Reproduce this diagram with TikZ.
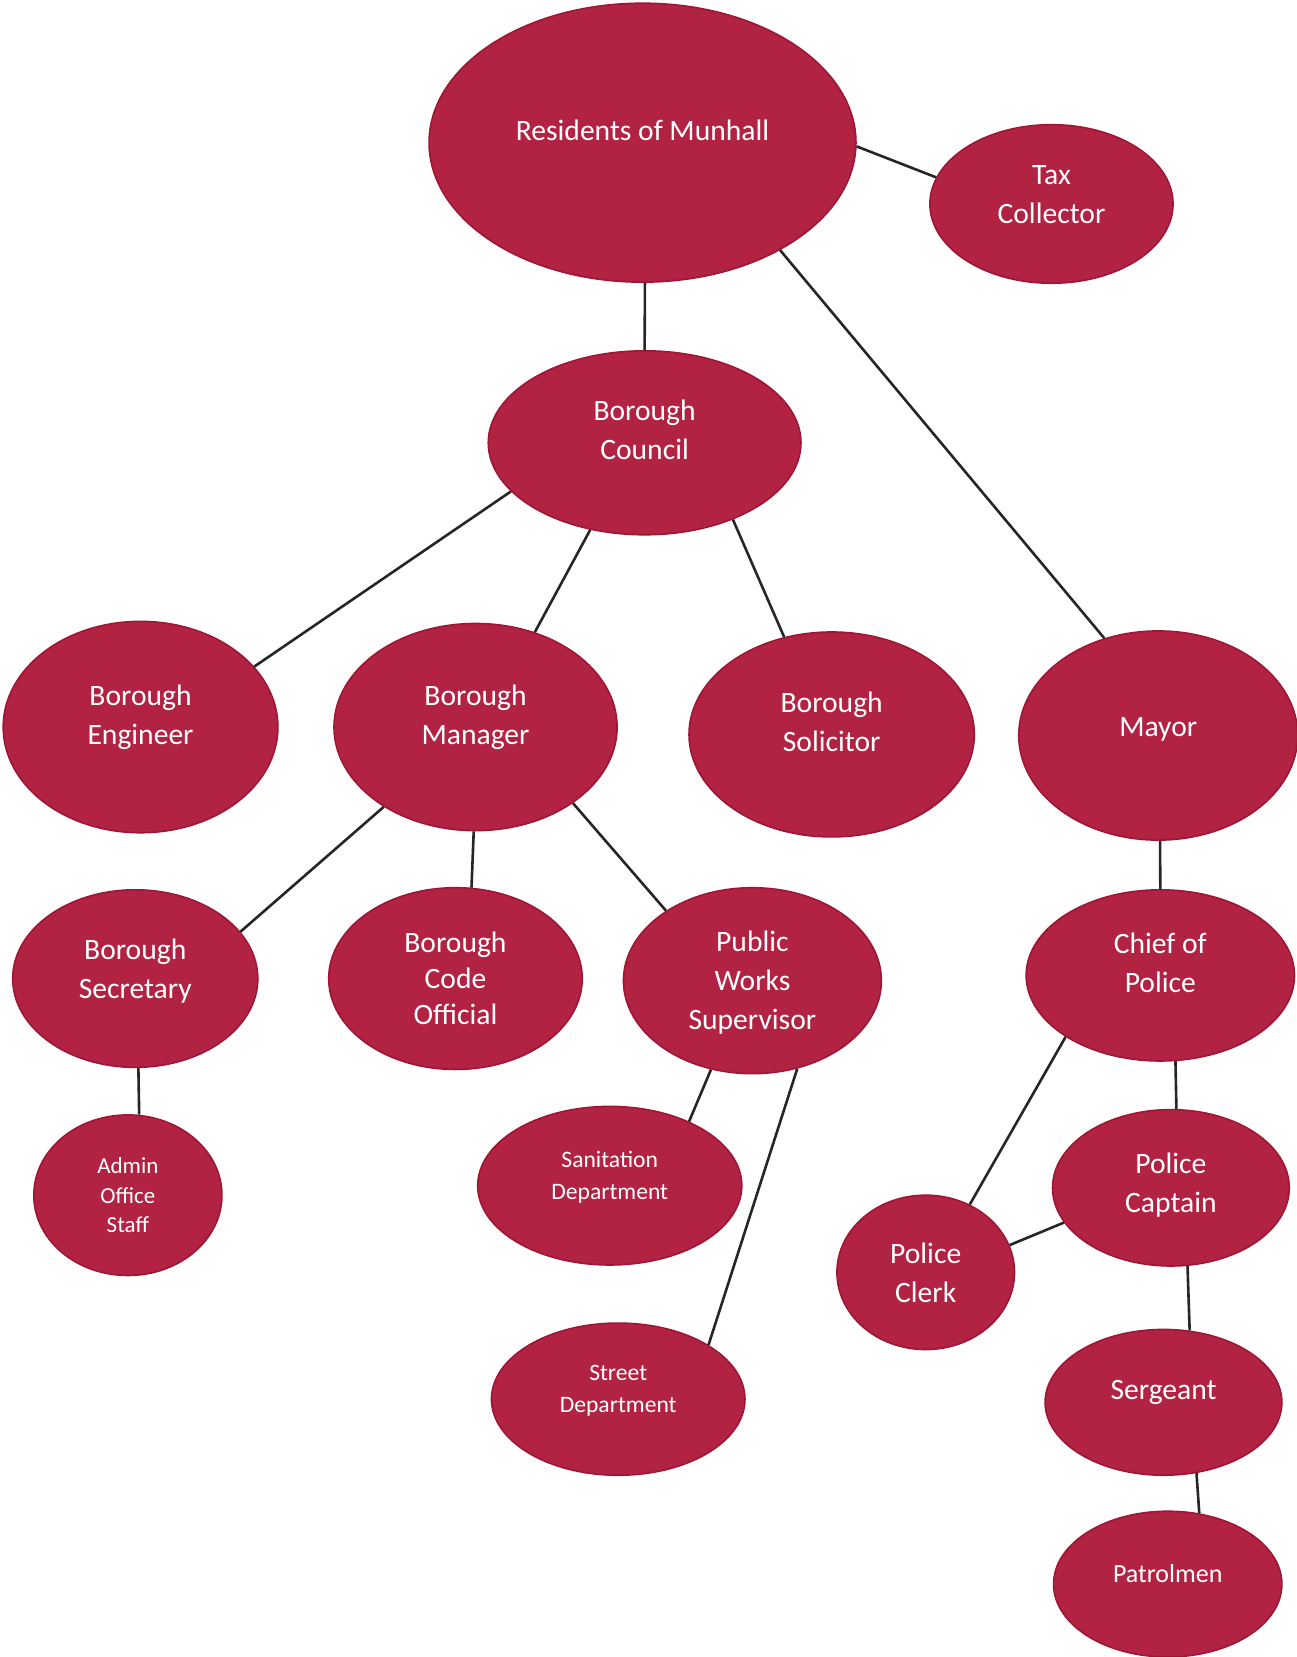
\documentclass[tikz,border=0pt]{standalone}
\usepackage{fontspec}
\setmainfont{Carlito}
\usepackage{tikz}
\usetikzlibrary{shapes.geometric}
\definecolor{orgfill}{RGB}{178,34,66}
\definecolor{orgdraw}{RGB}{158,22,52}
\tikzset{
  orgnode/.style={
    ellipse, draw=orgdraw, fill=orgfill, line width=0.8pt,
    text=white, align=center, inner sep=0pt,
    font=\fontsize{14.8}{19.5}\selectfont
  },
  orgsmall/.style={orgnode, font=\fontsize{11.8}{16}\selectfont},
  sz/.style 2 args={minimum width=#1pt, minimum height=#2pt},
  tup/.style={text depth=#1pt},
  orgline/.style={line width=1.3pt, draw=black!85},
}

\begin{document}
\begin{tikzpicture}[x=0.5285pt, y=-0.5285pt]
  \useasboundingbox[fill=white] (0,0) rectangle (1227,1568);
  \node (n1) [orgnode, sz={213.5}{139.5}, tup=12] at (608,135) {Residents of Munhall};
  \node (n2) [orgnode, sz={121.6}{79.3}, tup=9] at (995,193) {Tax\\Collector};
  \node (n3) [orgnode, sz={156.4}{92}, tup=13] at (610,419) {Borough\\Council};
  \node (n4) [orgnode, sz={137.4}{105.7}, tup=12] at (133,688) {Borough\\Engineer};
  \node (n5) [orgnode, sz={141.6}{103.6}, tup=12] at (450,688) {Borough\\Manager};
  \node (n6) [orgnode, sz={142.7}{102.5}, tup=13] at (787,695) {Borough\\Solicitor};
  \node (n7) [orgnode, sz={139.5}{104.6}, tup=9] at (1096,696) {Mayor};
  \node (n8) [orgnode, sz={122.6}{88.8}, tup=10] at (128,926) {Borough\\Secretary};
  \node (n9) [orgnode, sz={126.8}{90.9}, font=\fontsize{14.8}{18}\selectfont] at (431,926) {Borough\\Code\\Official};
  \node (n10) [orgnode, sz={129}{93}, tup=0] at (712,928) {Public\\Works\\Supervisor};
  \node (n11) [orgnode, sz={134.2}{85.6}, tup=13] at (1098,923) {Chief of\\Police};
  \node (n12) [orgsmall, sz={94.1}{80.3}, font=\fontsize{11.5}{14.8}\selectfont] at (121,1131) {Admin\\Office\\Staff};
  \node (n13) [orgsmall, sz={132.1}{79.3}, tup=10] at (577,1122) {Sanitation\\Department};
  \node (n14) [orgnode, sz={118.4}{78.2}, tup=5] at (1108,1124) {Police\\Captain};
  \node (n15) [orgnode, sz={88.8}{77.2}] at (876,1204) {Police\\Clerk};
  \node (n16) [orgsmall, sz={126.8}{76.1}, tup=10] at (585,1324) {Street\\Department};
  \node (n17) [orgnode, sz={118.4}{72.9}, tup=12] at (1101,1327) {Sergeant};
  \node (n18) [orgnode, sz={114.2}{72.9}, tup=11, font=\fontsize{13}{16}\selectfont] at (1105,1499) {Patrolmen};
  % connectors
  \draw[orgline] (n1.-1)--(n2.167); \draw[orgline] (n1.-89)--(n3.90);
  \draw[orgline] (n1.-38)--(n7.119);
  \draw[orgline] (n3.-160)--(n4.28); \draw[orgline] (n3.-122)--(n5.58);
  \draw[orgline] (n3.-41)--(n6.116); \draw[orgline] (n7.-89)--(n11.90);
  \draw[orgline] (n5.-139)--(n8.24); \draw[orgline] (n5.-91)--(n9.80);
  \draw[orgline] (n5.-38)--(n10.141); \draw[orgline] (n8.-88)--(n12.82);
  \draw[orgline] (n10.-115)--(n13.39); \draw[orgline] (n10.-63)--(n16.31);
  \draw[orgline] (n11.-147)--(n15.57); \draw[orgline] (n11.-80)--(n14.86);
  \draw[orgline] (n14.-162)--(n15.18); \draw[orgline] (n14.-78)--(n17.70);
  \draw[orgline] (n17.-65)--(n18.66);
\end{tikzpicture}
\end{document}
